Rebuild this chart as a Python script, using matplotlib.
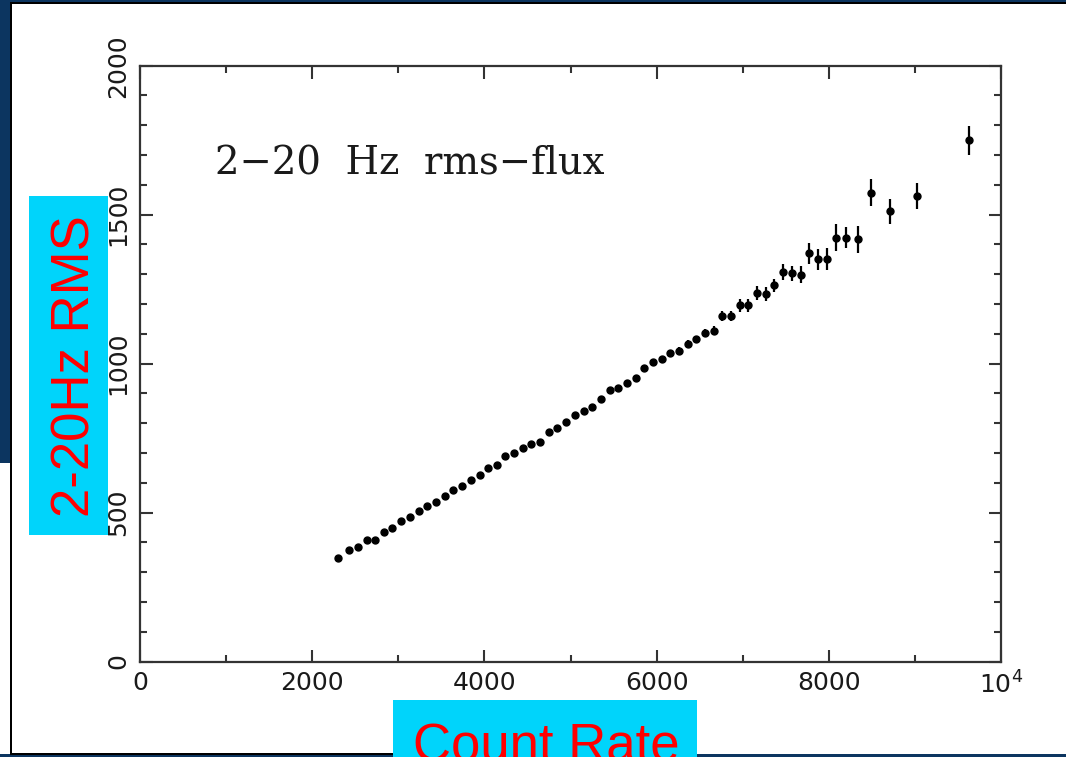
import matplotlib
matplotlib.use("Agg")
import matplotlib.pyplot as plt
from matplotlib.patches import Rectangle
from matplotlib.ticker import MultipleLocator

# rms-flux relation
count_rate = [2303, 2431, 2535, 2633, 2729, 2834, 2930, 3031, 3136, 3237,
              3337, 3438, 3539, 3639, 3740, 3844, 3945, 4045, 4143, 4243,
              4344, 4445, 4545, 4642, 4747, 4847, 4948, 5052, 5153, 5253,
              5354, 5455, 5555, 5656, 5757, 5854, 5955, 6057, 6158, 6258,
              6359, 6460, 6564, 6663, 6760, 6864, 6965, 7065, 7166, 7267,
              7367, 7468, 7573, 7674, 7774, 7875, 7976, 8087, 8196, 8336,
              8494, 8711, 9021, 9628]
rms = [346, 374, 385, 408, 408, 436, 447, 472, 486, 506,
       522, 536, 556, 576, 590, 609, 627, 648, 658, 691,
       699, 717, 729, 738, 771, 783, 805, 827, 841, 855,
       882, 913, 918, 936, 951, 984, 1004, 1014, 1034, 1043,
       1067, 1081, 1103, 1111, 1159, 1159, 1196, 1196, 1236, 1233,
       1263, 1308, 1303, 1299, 1370, 1350, 1351, 1423, 1423, 1417,
       1574, 1511, 1562, 1749]
rms_err = [5, 5, 5, 5, 5, 5, 5, 5, 5, 6,
           6, 6, 6, 6, 6, 6, 6, 7, 7, 7,
           7, 7, 7, 8, 8, 8, 8, 8, 9, 9,
           9, 9, 10, 10, 10, 10, 11, 11, 11, 12,
           12, 13, 13, 14, 17, 17, 22, 22, 23, 24,
           22, 26, 26, 28, 36, 36, 36, 45, 36, 46,
           45, 42, 43, 49]

xtick_vals = [0, 2000, 4000, 6000, 8000, 10000]
xtick_labels = ['0', '2000', '4000', '6000', '8000', r'$10^4$']
ytick_vals = [0, 500, 1000, 1500, 2000]

W, H = 1066, 757
fig = plt.figure(figsize=(W / 100, H / 100), dpi=100, facecolor='white')


def box(x0, y0, x1, y1, color, z=1):
    # rectangle given in pixel coordinates (origin top-left)
    r = Rectangle((x0 / W, 1 - y1 / H), (x1 - x0) / W, (y1 - y0) / H,
                  transform=fig.transFigure, facecolor=color,
                  edgecolor='none', zorder=z)
    fig.patches.append(r)


# slide background bits around the white panel
navy = '#0c3560'
box(0, 0, W, 3, navy)
box(0, 0, 10, 463, navy)
box(0, 754, W, H, navy)
box(9.5, 2, 11.5, 755, 'black', 2)
box(10, 2, W, 4, 'black', 2)
box(10, 752.5, 393, 755, 'black', 2)

ax = fig.add_axes([140 / W, 1 - 661.5 / H, 861 / W, 595.8 / H])
ax.errorbar(count_rate, rms, yerr=rms_err, fmt='o', color='black',
            markersize=5, elinewidth=1.6, capsize=0)

ax.set_xlim(0, 10000)
ax.set_ylim(0, 2000)
ax.set_xticks(xtick_vals)
ax.set_xticklabels(xtick_labels)
ax.set_yticks(ytick_vals)
ax.set_yticklabels([str(v) for v in ytick_vals], rotation=90, va='center')
ax.xaxis.set_minor_locator(MultipleLocator(1000))
ax.yaxis.set_minor_locator(MultipleLocator(100))
ax.tick_params(which='both', direction='in', top=True, right=True,
               color='#333333', width=1.5, labelsize=18, labelcolor='#1a1a1a')
ax.tick_params(which='major', length=9)
ax.tick_params(which='minor', length=5)
ax.tick_params(axis='x', pad=7)
ax.tick_params(axis='y', pad=7)
for s in ax.spines.values():
    s.set_linewidth(1.6)
    s.set_color('#333333')

ax.text(0.087, 0.8166, '2\u221220  Hz  rms\u2212flux', transform=ax.transAxes,
        family='DejaVu Serif', fontsize=27.8, color='#1a1a1a',
        ha='left', va='baseline')

# highlighted axis titles pasted on the slide
cyan = '#00d4fb'
box(29, 196, 108, 535, cyan, 3)
box(393, 700, 697, H + 1, cyan, 3)
fig.text(75.4 / W, 1 - 366.5 / H, '2-20Hz RMS', rotation=90,
         family='Liberation Sans', fontsize=38, color='red',
         ha='center', va='center', zorder=4)
fig.text(546 / W, 1 - 761 / H, 'Count Rate', family='Liberation Sans',
         fontsize=38, color='red', ha='center', va='baseline', zorder=4)

fig.savefig('out.png', dpi=100, facecolor='white')
